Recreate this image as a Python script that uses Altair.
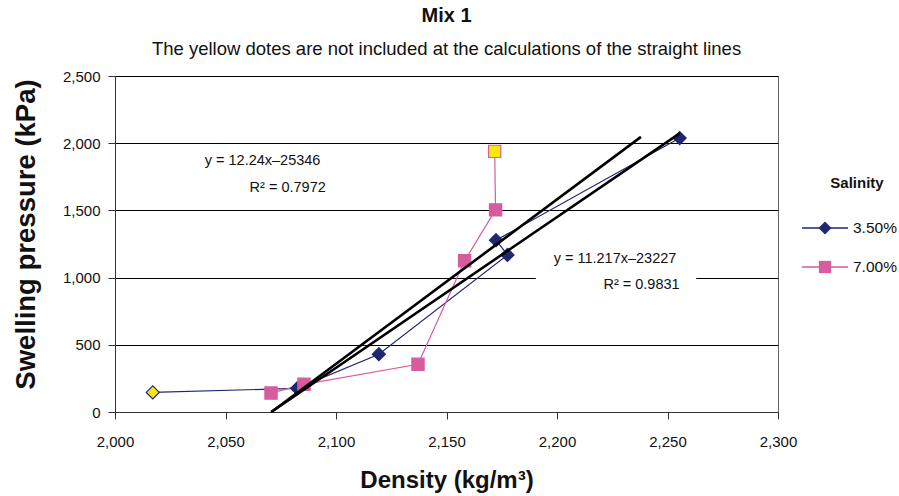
import altair as alt
import pandas as pd

# Measured swelling pressure vs density, one list per salinity.
# Points are listed in the order the curves connect them.
density_35 = [2017.1, 2082.4, 2119.4, 2177.6, 2172.4, 2255.5]
pressure_35 = [146, 176, 430, 1169, 1278, 2038]
excluded_35 = [True, False, False, False, False, False]

density_70 = [2070.6, 2085.5, 2137.1, 2158.2, 2172.2, 2171.8]
pressure_70 = [141, 206, 355, 1125, 1504, 1939]
excluded_70 = [False, False, False, False, False, True]

series_names = ["3.50%", "7.00%"]
series_colors = ["#1f2770", "#d65c9e"]
series_shapes = ["diamond", "square"]
excluded_fill = "#f7e70b"

# Straight-line fits (yellow points left out of the fit)
fit_slopes = [12.24, 11.217]
fit_intercepts = [-25346, -23227]
fit_x_start = [2070.75, 2070.7]
fit_x_end = [2238.0, 2255.5]
fit_equations = ["y = 12.24x\u201325346", "y = 11.217x\u201323227"]
fit_r2 = ["R\u00b2 = 0.7972", "R\u00b2 = 0.9831"]

# Anchor points of the fit labels (data units)
eq_x = [2040.6, 2198.5]
eq_y = [1868, 1138]
r2_x = [2060.9, 2221.0]
r2_y = [1667, 945]
# white backing box of the second label
box_x = [2190.4]
box_x2 = [2263.0]
box_y = [855]
box_y2 = [1240]

FONT = "Liberation Sans"

rows = []
for name, xs, ys, ex in [
    (series_names[0], density_35, pressure_35, excluded_35),
    (series_names[1], density_70, pressure_70, excluded_70),
]:
    for i, (xv, yv, e) in enumerate(zip(xs, ys, ex)):
        rows.append({"series": name, "density": xv, "pressure": yv,
                     "excluded": e, "order": i})
points = pd.DataFrame(rows)

fit_rows = []
for k in range(2):
    for xv in (fit_x_start[k], fit_x_end[k]):
        fit_rows.append({"fit": k, "density": xv,
                         "pressure": fit_slopes[k] * xv + fit_intercepts[k]})
fits = pd.DataFrame(fit_rows)

labels = pd.DataFrame(
    {"density": eq_x + r2_x, "pressure": eq_y + r2_y, "text": fit_equations + fit_r2}
)
boxes = pd.DataFrame({"density": box_x, "density2": box_x2,
                      "pressure": box_y, "pressure2": box_y2})

x_scale = alt.Scale(domain=[2000, 2300], nice=False, zero=False)
y_scale = alt.Scale(domain=[0, 2500], nice=False)
color_scale = alt.Scale(domain=series_names, range=series_colors)

x_enc = alt.X(
    "density:Q", scale=x_scale,
    axis=alt.Axis(
        title="Density (kg/m\u00b3)", values=[2000, 2050, 2100, 2150, 2200, 2250, 2300],
        format=",.0f", grid=False, tickSize=7, labelPadding=15, titlePadding=19,
        labelFlush=False, labelOverlap=False,
        labelFontSize=15, titleFontSize=24, titleFontWeight="bold",
        domainColor="#333333", tickColor="#333333", labelColor="#111111",
        labelFont=FONT, titleFont=FONT, titleColor="#111111",
    ),
)
y_enc = alt.Y(
    "pressure:Q", scale=y_scale,
    axis=alt.Axis(
        title="Swelling pressure (kPa)", values=[0, 500, 1000, 1500, 2000, 2500],
        format=",.0f", grid=True, gridColor="#000000", gridWidth=1, tickSize=7,
        labelPadding=8, titlePadding=22, titleY=158, labelFontSize=15, titleFontSize=27.5,
        labelFlush=False,
        titleFontWeight="bold", domainColor="#333333", tickColor="#333333",
        labelColor="#111111", labelFont=FONT, titleFont=FONT, titleColor="#111111",
    ),
)

box_layer = alt.Chart(boxes).mark_rect(color="white").encode(
    x=x_enc, x2="density2:Q", y=y_enc, y2="pressure2:Q",
)

series_lines = alt.Chart(points).mark_line(strokeWidth=1.2).encode(
    x=x_enc, y=y_enc,
    color=alt.Color("series:N", scale=color_scale, legend=None),
    order="order:Q",
)

# Markers of each series; points left out of the fit are filled yellow
marker_layers = []
for name, color, shape, size in zip(series_names, series_colors, series_shapes, [170, 150]):
    marker_layers.append(
        alt.Chart(points).transform_filter(
            alt.datum.series == name
        ).mark_point(
            shape=shape, filled=True, size=size, opacity=1,
            stroke=color, strokeWidth=1.2,
        ).encode(
            x=x_enc, y=y_enc,
            fill=alt.condition("datum.excluded", alt.value(excluded_fill), alt.value(color)),
        )
    )

fit_lines = alt.Chart(fits).mark_line(color="#000000", strokeWidth=2.6).encode(
    x=x_enc, y=y_enc, detail="fit:N",
)

fit_text = alt.Chart(labels).mark_text(
    align="left", baseline="middle", font=FONT, fontSize=14.5, color="#111111"
).encode(
    x=x_enc, y=y_enc, text="text:N",
)

# Legend drawn beside the plot: a line key with the marker, then the label
LEG_KEY_X0, LEG_KEY_X1, LEG_KEY_MID = 687, 733, 710
LEG_LABEL_X = 738
LEG_ROWS_Y = [152, 191]
legend_layers = [
    alt.Chart(pd.DataFrame({"t": ["Salinity"]})).mark_text(
        align="center", baseline="middle", font=FONT, fontSize=15,
        fontWeight="bold", color="#111111",
    ).encode(x=alt.value(742), y=alt.value(107), text="t:N")
]
for name, color, shape, ry in zip(series_names, series_colors, series_shapes, LEG_ROWS_Y):
    one = alt.Chart(pd.DataFrame({"series": [name]}))
    legend_layers += [
        one.mark_rule(color=color, strokeWidth=1.3).encode(
            x=alt.value(LEG_KEY_X0), x2=alt.value(LEG_KEY_X1), y=alt.value(ry)),
        one.mark_point(shape=shape, filled=True, size=150 if shape == "square" else 170,
                       color=color, opacity=1).encode(
            x=alt.value(LEG_KEY_MID), y=alt.value(ry)),
        one.mark_text(align="left", baseline="middle", font=FONT, fontSize=15.5,
                      color="#111111").encode(
            x=alt.value(LEG_LABEL_X), y=alt.value(ry), text="series:N"),
    ]

chart = alt.layer(
    box_layer, series_lines, *marker_layers, fit_lines, fit_text, *legend_layers
).properties(
    width=663, height=336,
    background="white",
    title=alt.TitleParams(
        text="Mix 1",
        subtitle="The yellow dotes are not included at the calculations of the straight lines",
        font=FONT, fontSize=20, fontWeight="bold", color="#111111",
        subtitleFont=FONT, subtitleFontSize=18.5, subtitleColor="#111111",
        anchor="middle", frame="group", offset=11, subtitlePadding=14,
    ),
    autosize=alt.AutoSizeParams(type="none"),
    padding={"left": 115, "top": 76, "right": 121, "bottom": 84},
).configure_view(
    stroke="#666666", strokeWidth=1
)

chart.save("out.html", embed_options={"renderer": "svg", "actions": False})
